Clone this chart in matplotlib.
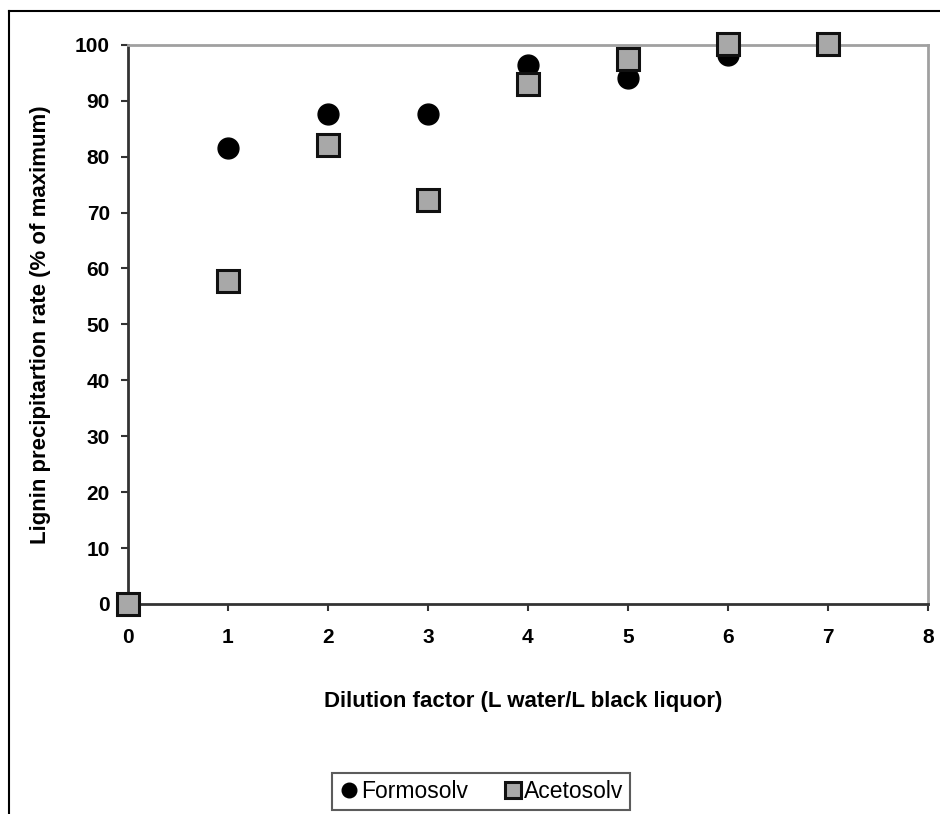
import matplotlib.pyplot as plt
from matplotlib.lines import Line2D

plt.rcParams['font.family'] = ['Liberation Sans', 'DejaVu Sans']

# data
dilution = [0, 1, 2, 3, 4, 5, 6, 7]
formosolv = [0, 81.5, 87.7, 87.7, 96.3, 94.0, 98.2, 100]
acetosolv = [0, 57.7, 82.1, 72.2, 93.0, 97.4, 100.2, 100.1]
xticks = [0, 1, 2, 3, 4, 5, 6, 7, 8]
yticks = [0, 10, 20, 30, 40, 50, 60, 70, 80, 90, 100]

fig = plt.figure(figsize=(9.4, 8.14), dpi=100)
ax = fig.add_axes([0.136, 0.258, 0.851, 0.687])

ax.plot(dilution, formosolv, 'o', color='black', markersize=15,
        linestyle='none', label='Formosolv', clip_on=False, zorder=3)
ax.plot(dilution, acetosolv, 's', markerfacecolor='#a8a8a8', markeredgecolor='#111111',
        markeredgewidth=2.2, markersize=15.5, linestyle='none', label='Acetosolv',
        clip_on=False, zorder=4)

ax.set_xlim(0, 8)
ax.set_ylim(0, 100)
ax.set_xticks(xticks)
ax.set_yticks(yticks)
ax.tick_params(direction='out', length=5, width=1.5, color='#333333', labelsize=15)
ax.tick_params(axis='x', pad=12)
ax.tick_params(axis='y', pad=8)
for lab in ax.get_xticklabels() + ax.get_yticklabels():
    lab.set_fontweight('bold')

for s in ['left', 'bottom']:
    ax.spines[s].set_color('#333333')
    ax.spines[s].set_linewidth(2)
for s in ['top', 'right']:
    ax.spines[s].set_color('#a0a0a0')
    ax.spines[s].set_linewidth(2)

ax.set_xlabel('Dilution factor (L water/L black liquor)', fontsize=16, fontweight='bold', labelpad=38)
ax.xaxis.set_label_coords(0.494, -0.155)
ax.set_ylabel('Lignin precipitartion rate (% of maximum)', fontsize=16, fontweight='bold', labelpad=17)

leg = fig.legend(loc='center', bbox_to_anchor=(0.512, 0.028), ncol=2, fontsize=16.5,
                 frameon=True, fancybox=False, edgecolor='#333333', handlelength=0.9,
                 handletextpad=0.05, columnspacing=1.5, borderpad=0.3, markerscale=0.7)
leg.get_frame().set_linewidth(1.5)

# outer frame (top and left only)
fig.add_artist(Line2D([8.5 / 940, 8.5 / 940], [0, 1 - 10.5 / 814], color='black', lw=1.5))
fig.add_artist(Line2D([8.5 / 940, 1], [1 - 10.5 / 814, 1 - 10.5 / 814], color='black', lw=1.5))

fig.savefig('out.png', dpi=100)
